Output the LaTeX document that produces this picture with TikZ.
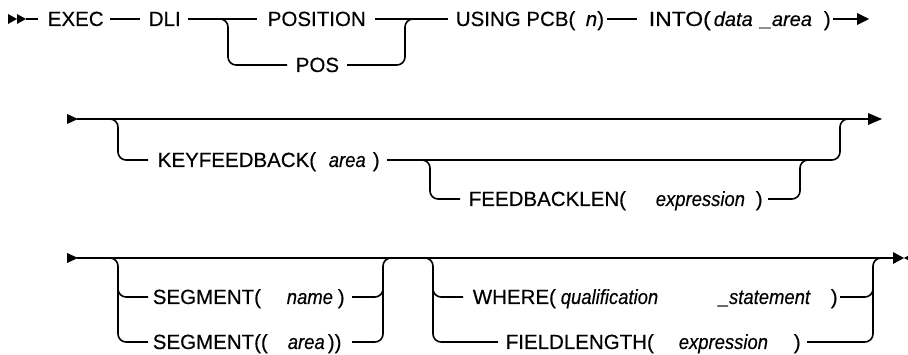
\documentclass[tikz,border=0pt]{standalone}
\usepackage{graphicx}
\usepackage{fontspec}
\setmainfont[FakeBold=0.35]{Liberation Sans}
\newcommand{\vnarrow}[1]{\scalebox{0.9}[1]{\itshape #1}}
\begin{document}
\begin{tikzpicture}[x=1pt,y=-1pt,line width=1.6pt,
  trk/.style={line width=1.6pt,rounded corners=8pt},
  lbl/.style={anchor=base west,inner sep=0pt,font=\fontsize{20.5}{24}\selectfont},
  varb/.style={lbl,font=\fontsize{20}{24}\selectfont\itshape}]
\useasboundingbox (0,0) rectangle (908,355);
% ---------- row 1 ----------
\fill (8,14) -- (17,19) -- (8,24) -- cycle;
\fill (17,14) -- (26,19) -- (17,24) -- cycle;
\draw (26,19) -- (38,19);
\node[lbl] (exec) at (47,26) {EXEC};
\draw (110,19) -- (140,19);
\node[lbl] (dli) at (148,26) {DLI};
\draw (188,19) -- (257,19);
\draw[trk] (205,19) -| (228,65) -- (287,65);
\node[lbl] (position) at (267,26) {POSITION};
\node[lbl] (pos) at (295,72) {POS};
\draw (375,19) -- (448,19);
\draw[trk] (347,65) -| (405,19) -- (420,19);
\node[lbl] (using) at (455,26) {USING PCB(};
\node[lbl] (n) at (585,26) {\textit{n})};
\draw (607,19) -- (637,19);
\node[lbl] (into) at (648,26) {\resizebox{62pt}{\height}{INTO(}};
\node[varb] (data) at (713,26) {data};
\node[varb] (area1) at (760,26) {\_area};
\node[lbl] (rp1) at (823,26) {)};
\draw (833,19) -- (858,19);
\fill (857,13) -- (869,19) -- (857,25) -- cycle;
% ---------- row 2 ----------
\fill (67,114) -- (78,119) -- (67,124) -- cycle;
\draw (77,119) -- (869,119);
\fill (868,113) -- (882,119) -- (868,125) -- cycle;
\draw[trk] (105,119) -| (118,160) -- (148,160);
\node[lbl] (keyfb) at (157,167) {KEYFEEDBACK(};
\node[lbl] (area2) at (328,167) {\vnarrow{area}};
\node[lbl] (rp2) at (372,167) {)};
\draw[trk] (387,160) -| (840,119) -- (850,119);
\draw[trk] (415,160) -| (430,199) -- (460,199);
\node[lbl] (fblen) at (468,206) {FEEDBACKLEN(};
\node[lbl] (expr1) at (655,206) {\vnarrow{expression}};
\node[lbl] (rp3) at (755,206) {)};
\draw[trk] (768,199) -| (800,160) -- (810,160);
% ---------- row 3 ----------
\fill (67,253) -- (78,258) -- (67,263) -- cycle;
\draw (77,258) -- (894,258);
\fill (893,252) -- (904,258) -- (893,264) -- cycle;
\fill (915,252) -- (904,258) -- (915,264) -- cycle;
\draw[trk] (105,258) -| (118,342) -- (148,342);
\draw[trk] (118,280) |- (148,297);
\node[lbl] (seg1) at (152,304) {SEGMENT(};
\node[lbl] (name) at (286,304) {\vnarrow{name}};
\node[lbl] (rp4) at (337,304) {)};
\node[lbl] (seg2) at (152,349) {SEGMENT((};
\node[lbl] (area3) at (287,349) {\vnarrow{area}};
\node[lbl] (rp5) at (327,349) {))};
\draw[trk] (352,342) -| (383,258) -- (395,258);
\draw[trk] (352,297) -| (383,280);
\draw[trk] (420,258) -| (433,342) -- (498,342);
\draw[trk] (433,280) |- (463,297);
\node[lbl] (where) at (472,304) {WHERE(};
\node[lbl] (qual) at (560,304) {\vnarrow{qualification}};
\node[lbl] (stmt) at (718,304) {\vnarrow{\_statement}};
\node[lbl] (rp6) at (830,304) {)};
\node[lbl] (fldlen) at (505,349) {FIELDLENGTH(};
\node[lbl] (expr2) at (678,349) {\vnarrow{expression}};
\node[lbl] (rp7) at (793,349) {)};
\draw[trk] (807,342) -| (873,258) -- (885,258);
\draw[trk] (840,297) -| (873,280);
\end{tikzpicture}
\end{document}
